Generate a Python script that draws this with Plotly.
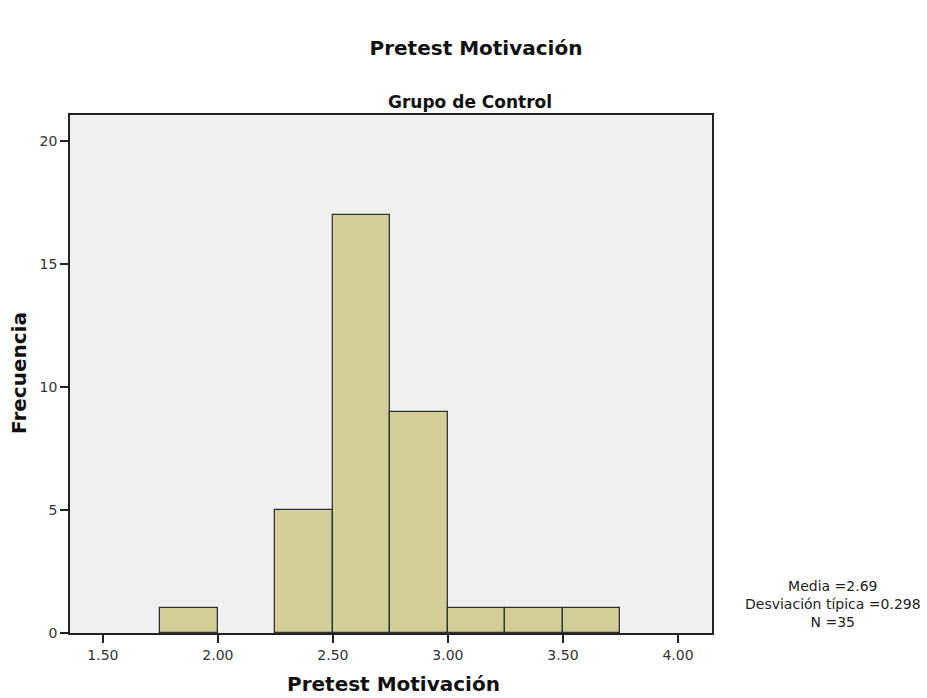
import plotly.graph_objects as go

bin_starts = [1.75, 2.25, 2.50, 2.75, 3.00, 3.25, 3.50]
bin_width = 0.25
counts = [1, 5, 17, 9, 1, 1, 1]
x_ticks = [1.5, 2.0, 2.5, 3.0, 3.5, 4.0]
x_tick_labels = ["1.50", "2.00", "2.50", "3.00", "3.50", "4.00"]
y_ticks = [0, 5, 10, 15, 20]
stats_text = "Media =2.69<br>Desviación típica =0.298<br>N =35"

centers = [s + bin_width / 2 for s in bin_starts]

fig = go.Figure()
fig.add_trace(go.Bar(
    x=centers, y=counts, width=[bin_width] * len(counts),
    marker=dict(color="#D3CE97", line=dict(color="#333333", width=1.3)),
    showlegend=False, hoverinfo="skip",
))

font_family = "DejaVu Sans, Liberation Sans, Arial, sans-serif"
W, H = 927, 698
L, T = 70, 115
R, B = W - 712, H - 633
pw, ph = W - L - R, H - T - B

fig.update_layout(
    width=W, height=H,
    margin=dict(l=L, r=R, t=T, b=B),
    paper_bgcolor="white",
    plot_bgcolor="#F0F0F0",
    font=dict(family=font_family, size=14, color="#222222"),
    bargap=0,
    title=dict(text="<b>Pretest Motivación</b>", x=476 / W, xanchor="center",
               y=1 - 48 / H, yanchor="middle", font=dict(size=20, color="#111111")),
)
fig.update_xaxes(
    range=[1.357, 4.148], tickvals=x_ticks, ticktext=x_tick_labels,
    ticks="outside", ticklen=8, tickcolor="#222222", tickwidth=1.5,
    showline=True, linecolor="#222222", linewidth=1.5, mirror=True,
    showgrid=False, zeroline=False,
    tickfont=dict(size=14, color="#333333"),
)
fig.update_yaxes(
    range=[0, 21.06], tickvals=y_ticks,
    ticks="outside", ticklen=8, tickcolor="#222222", tickwidth=1.5,
    showline=True, linecolor="#222222", linewidth=1.5, mirror=True,
    showgrid=False, zeroline=False,
    tickfont=dict(size=14, color="#333333"),
)
# axis titles
fig.add_annotation(text="<b>Pretest Motivación</b>", xref="paper", yref="paper",
                   x=(393 - L) / pw, y=(ph - (684 - T)) / ph, xanchor="center", yanchor="middle",
                   showarrow=False, font=dict(size=20, color="#111111"))
fig.add_annotation(text="<b>Frecuencia</b>", xref="paper", yref="paper",
                   x=(19 - L) / pw, y=(ph - (373 - T)) / ph, xanchor="center", yanchor="middle",
                   textangle=-90, showarrow=False, font=dict(size=20, color="#111111"))
fig.add_annotation(text="<b>Grupo de Control</b>", xref="paper", yref="paper",
                   x=(469.5 - L) / pw, y=1.0, xanchor="center", yanchor="bottom", yshift=1,
                   showarrow=False, font=dict(size=17, color="#111111"))
fig.add_annotation(text=stats_text, xref="paper", yref="paper",
                   x=(833 - L) / pw, y=(ph - (604 - T)) / ph, xanchor="center", yanchor="middle",
                   showarrow=False, align="center", font=dict(size=14, color="#222222"))

fig.write_html("out.html", config={"displayModeBar": False},
               post_script="document.body.style.margin='0';")
